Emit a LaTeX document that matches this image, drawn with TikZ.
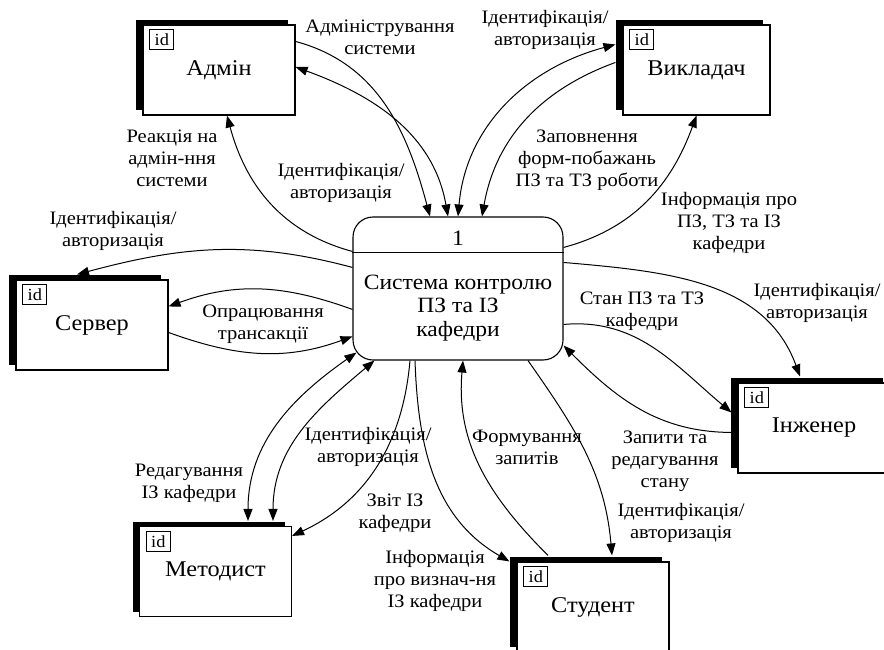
\documentclass[tikz,border=0pt]{standalone}
\usepackage{fontspec}
\setmainfont{Liberation Serif}[FakeStretch=1.08]
\usetikzlibrary{arrows.meta,shadows,calc}
\begin{document}
\begin{tikzpicture}[x=1pt,y=1pt,
  ent/.style={draw, line width=1.1pt, fill=white, minimum width=152pt, minimum height=90pt, inner sep=0pt,
    general shadow={fill=black, shadow xshift=-7pt, shadow yshift=5pt},
    font=\fontsize{22.5}{24}\selectfont},
  idbox/.style={draw, line width=0.8pt, minimum width=24pt, minimum height=20pt, inner sep=0pt, anchor=north west,
    font=\fontsize{17}{17}\selectfont},
  proc/.style={draw, line width=1.1pt, rounded corners=20pt, minimum width=210pt, minimum height=143pt, inner sep=0pt},
  lbl/.style={align=center, inner sep=0pt, font=\fontsize{19}{22}\selectfont},
  flow/.style={line width=1pt, -{Triangle[length=12pt,width=9pt]}},
  bflow/.style={line width=1pt, {Triangle[length=12pt,width=9pt]}-{Triangle[length=12pt,width=9pt]}},
]
\useasboundingbox (0,0) rectangle (884,-650);
% entities
\node[ent] (admin) at (219,-70) {Адмін};
\node[ent, minimum width=147pt] (vykl) at (696.5,-70) {Викладач};
\node[ent] (server) at (92,-325) {Сервер};
\node[ent] (inzh) at (814,-428) {Інженер};
\node[ent] (metod) at (215.5,-571.5) {Методист};
\node[ent] (student) at (593,-607) {Студент};
\foreach \e in {admin,vykl,server,inzh,metod,student}
  \node[idbox] (\e id) at ([shift={(7pt,-5pt)}]\e.north west) {id};
% process
\node[proc] (proc) at (458,-288.5) {};
\draw[line width=1.1pt] ([yshift=-36pt]proc.north west) -- ([yshift=-36pt]proc.north east);
\node[inner sep=0pt, font=\fontsize{22}{23}\selectfont] (procnum) at ([yshift=-22pt]proc.north) {1};
\node[align=center, inner sep=0pt, font=\fontsize{21.8}{23.5}\selectfont] (proctext) at (458,-308) {Система контролю\\ПЗ та ІЗ\\кафедри};
% flows
\draw[flow] ([yshift=-17pt]admin.north east) to[out=-15,in=105] ([xshift=-28pt]proc.north);
\draw[bflow] ([yshift=3pt]admin.east) to[out=-20,in=100] ([xshift=-10pt]proc.north);
\draw[bflow] ([shift={(-7pt,-20pt)}]vykl.north west) to[out=195,in=85] (proc.north);
\draw[flow] ([shift={(-7pt,-38pt)}]vykl.north west) to[out=200,in=80] ([xshift=24pt]proc.north);
\draw[flow] ([yshift=-31pt]proc.north east) to[out=15,in=-110] (vykl.south);
\draw[flow] ([yshift=-35pt]proc.north west) to[out=165,in=-75] ([xshift=8pt]admin.south);
\draw[flow] ([yshift=-51pt]proc.north west) to[out=165,in=15] ([shift={(-15pt,5pt)}]server.north);
\draw[flow] ([yshift=-93pt]proc.north west) to[out=160,in=20] ([yshift=-27pt]server.north east);
\draw[flow] ([yshift=-53pt]server.north east) to[out=-20,in=200] ([yshift=-120pt]proc.north west);
\draw[bflow] ([shift={(32.5pt,5pt)}]metod.north) to[out=90,in=215] ([shift={(4pt,8pt)}]proc.south west);
\draw[bflow] ([shift={(57.5pt,5pt)}]metod.north) to[out=90,in=220] ([shift={(22pt,0pt)}]proc.south west);
\draw[flow] ([xshift=-48pt]proc.south) to[out=-95,in=25] ([yshift=-10pt]metod.north east);
\draw[flow] ([xshift=-43pt]proc.south) to[out=-88,in=150] ([xshift=-7pt]student.north west);
\draw[flow] ([shift={(-45pt,6pt)}]student.north) to[out=135,in=-95] ([xshift=5pt]proc.south);
\draw[flow] ([xshift=70pt]proc.south) to[out=-55,in=95] ([shift={(19pt,6pt)}]student.north);
\draw[flow] ([yshift=-46pt]proc.north east) to[out=-5,in=110] ([shift={(-14pt,6pt)}]inzh.north);
\draw[flow] ([yshift=-108pt]proc.north east) to[out=5,in=140] ([shift={(-6pt,-30pt)}]inzh.north west);
\draw[flow] ([shift={(-5pt,-50pt)}]inzh.north west) to[out=180,in=-45] ([yshift=15pt]proc.south east);
% labels
\node[lbl] (l1) at (380,-37) {Адміністрування\\системи};
\node[lbl] (l2) at (545,-30) {Ідентифікація/\\авторизація};
\node[lbl] (l3) at (172,-158) {Реакція на\\адмін-ння\\системи};
\node[lbl] (l4) at (341,-183) {Ідентифікація/\\авторизація};
\node[lbl] (l5) at (587,-160) {Заповнення\\форм-побажань\\ПЗ та ТЗ роботи};
\node[lbl] (l6) at (729,-223) {Інформація про\\ПЗ, ТЗ та ІЗ\\кафедри};
\node[lbl] (l7) at (113,-231) {Ідентифікація/\\авторизація};
\node[lbl] (l8) at (263,-324) {Опрацювання\\трансакції};
\node[lbl] (l9) at (642,-311) {Стан ПЗ та ТЗ\\кафедри};
\node[lbl] (l10) at (817,-303) {Ідентифікація/\\авторизація};
\node[lbl] (l11) at (665,-461) {Запити та\\редагування\\стану};
\node[lbl] (l12) at (189,-483) {Редагування\\ІЗ кафедри};
\node[lbl] (l13) at (368,-447) {Ідентифікація/\\авторизація};
\node[lbl] (l14) at (395,-513) {Звіт ІЗ\\кафедри};
\node[lbl] (l15) at (435,-581) {Інформація\\про визнач-ня\\ІЗ кафедри};
\node[lbl] (l16) at (527,-447) {Формування\\запитів};
\node[lbl] (l17) at (681,-523) {Ідентифікація/\\авторизація};
\end{tikzpicture}
\end{document}
